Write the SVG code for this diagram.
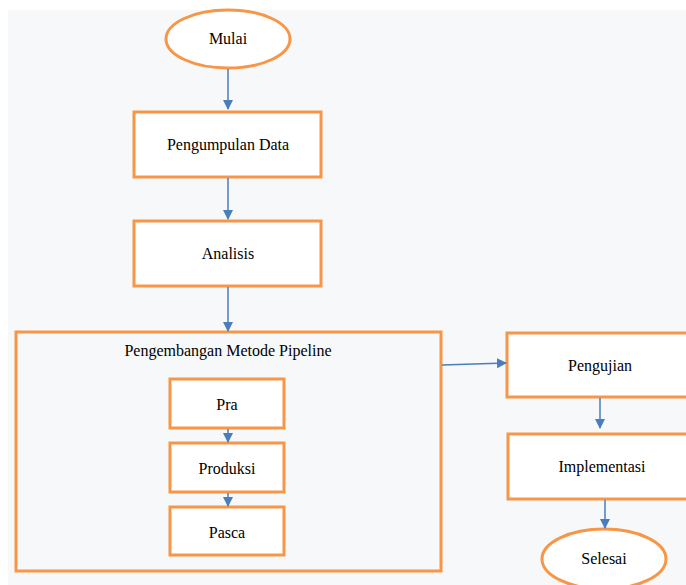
<svg xmlns="http://www.w3.org/2000/svg" width="686" height="585" viewBox="0 0 686 585">
<style>
.n{fill:#ffffff;stroke:#f79646;stroke-width:3}
.g{fill:none;stroke:#f79646;stroke-width:3}
.t{font-family:"Liberation Serif","Times New Roman",serif;font-size:16px;fill:#000;text-anchor:middle}
.c{stroke:#4a7ebb;stroke-width:1.5;fill:none}
</style>
<defs>
<marker id="a" markerWidth="10" markerHeight="10" refX="9" refY="5" orient="auto" markerUnits="userSpaceOnUse">
<path d="M0,0 L10,5 L0,10 Z" fill="#4a7ebb"/>
</marker>
</defs>
<rect x="0" y="0" width="686" height="585" fill="#ffffff"/>
<rect x="8" y="10" width="678" height="575" fill="#f7f8fa"/>
<g id="pipeline">
<rect class="g" x="16" y="332" width="425" height="239"/>
<text class="t" x="228" y="356">Pengembangan Metode Pipeline</text>
</g>
<g id="mulai">
<ellipse class="n" cx="228" cy="39" rx="62" ry="29"/>
<text class="t" x="228" y="44">Mulai</text>
</g>
<g id="pengumpulan">
<rect class="n" x="134" y="112" width="187" height="65"/>
<text class="t" x="228" y="150">Pengumpulan Data</text>
</g>
<g id="analisis">
<rect class="n" x="134" y="221" width="187" height="65"/>
<text class="t" x="228" y="259">Analisis</text>
</g>
<g id="pra">
<rect class="n" x="170" y="379" width="114" height="49"/>
<text class="t" x="227" y="410">Pra</text>
</g>
<g id="produksi">
<rect class="n" x="170" y="443" width="114" height="49"/>
<text class="t" x="227" y="474">Produksi</text>
</g>
<g id="pasca">
<rect class="n" x="170" y="507" width="114" height="48"/>
<text class="t" x="227" y="538">Pasca</text>
</g>
<g id="pengujian">
<rect class="n" x="507" y="333" width="187" height="64"/>
<text class="t" x="600" y="371">Pengujian</text>
</g>
<g id="implementasi">
<rect class="n" x="508" y="434" width="187" height="65"/>
<text class="t" x="602" y="472">Implementasi</text>
</g>
<g id="selesai">
<ellipse class="n" cx="604" cy="559" rx="62" ry="30"/>
<text class="t" x="604" y="564">Selesai</text>
</g>
<g id="connectors">
<line class="c" x1="228" y1="69" x2="228" y2="109" marker-end="url(#a)"/>
<line class="c" x1="228" y1="178" x2="228" y2="219" marker-end="url(#a)"/>
<line class="c" x1="228" y1="287" x2="228" y2="331" marker-end="url(#a)"/>
<line class="c" x1="228" y1="429" x2="228" y2="442" marker-end="url(#a)"/>
<line class="c" x1="228" y1="493" x2="228" y2="506" marker-end="url(#a)"/>
<line class="c" x1="442" y1="365" x2="506" y2="363" marker-end="url(#a)"/>
<line class="c" x1="600" y1="398" x2="600" y2="428" marker-end="url(#a)"/>
<line class="c" x1="605" y1="500" x2="605" y2="528" marker-end="url(#a)"/>
</g>
</svg>
